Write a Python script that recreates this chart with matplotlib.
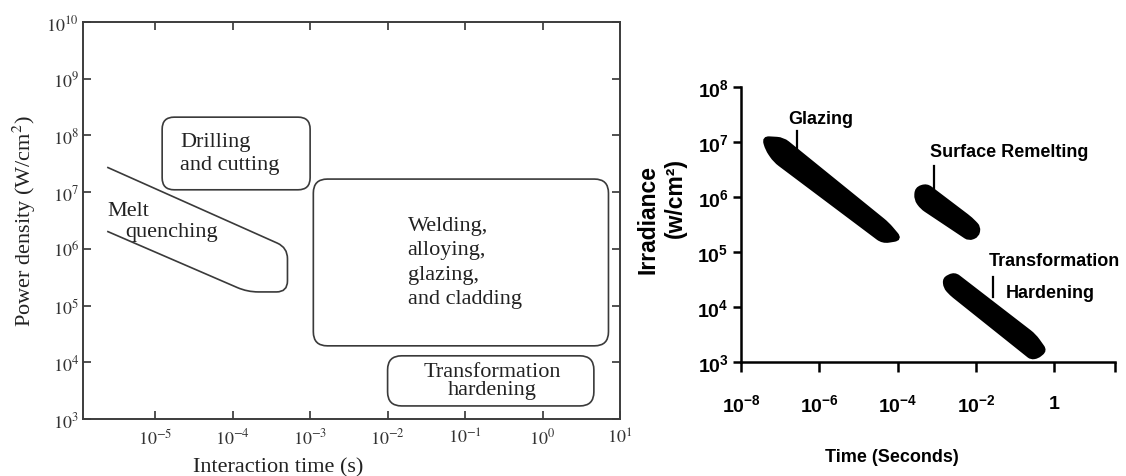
import numpy as np
import matplotlib
matplotlib.use("Agg")
import matplotlib.pyplot as plt
from matplotlib.path import Path
from matplotlib.patches import PathPatch
from matplotlib.transforms import IdentityTransform
from matplotlib import font_manager

# ---- left chart: laser processes, interaction time vs power density ----
drill_t = [1.23e-5, 1.0e-3]          # box x range (s)
drill_p = [1.1e7, 2.1e8]             # box y range (W/cm2)
weld_t = [1.1e-3, 7.1]
weld_p = [1.95e4, 1.7e7]
harden_t = [1.0e-2, 4.6]
harden_p = [1.7e3, 1.3e4]
# melt quenching outline (open shape)
melt_t = [2.4e-6, 5.1e-4, 5.1e-4, 1.55e-4, 2.4e-6]
melt_p = [2.75e7, 1.05e6, 1.74e5, 1.74e5, 2.04e6]

left_xticks = [1e-5, 1e-4, 1e-3, 1e-2, 1e-1, 1e0, 1e1]
left_xlabels = ['$10^{-5}$', '$10^{-4}$', '$10^{-3}$', '$10^{-2}$',
                '$10^{-1}$', '$10^{0}$', '$10^{1}$']
left_yticks = [1e3, 1e4, 1e5, 1e6, 1e7, 1e8, 1e9, 1e10]
left_ylabels = ['$10^{%d}$' % k for k in range(3, 11)]

# ---- right chart: irradiance vs time, bands given as log10 outlines ----
glaze_lt = [-7.41, -6.93, -4.26, -3.94, -4.38, -7.13, -7.33]
glaze_lI = [7.07, 7.05, 5.51, 5.24, 5.19, 6.66, 6.87]
remelt_lt = [-3.51, -3.26, -2.13, -1.93, -1.97, -2.18, -3.38, -3.53]
remelt_lI = [6.15, 6.21, 5.60, 5.45, 5.30, 5.24, 5.81, 5.96]
hard_lt = [-2.80, -2.55, -0.51, -0.24, -0.43, -0.59, -2.63, -2.78]
hard_lI = [4.51, 4.60, 3.48, 3.21, 3.10, 3.08, 4.24, 4.36]

right_xticks = [1e-8, 1e-6, 1e-4, 1e-2, 1]
right_xlabels = ['$10^{-8}$', '$10^{-6}$', '$10^{-4}$', '$10^{-2}$', '$1$']
right_yticks = [1e3, 1e4, 1e5, 1e6, 1e7, 1e8]
right_ylabels = ['$10^{%d}$' % k for k in range(3, 9)]

# label callouts (log10 coords)
glaze_tick = ([-6.57, -6.57], [7.20, 6.87])
remelt_tick = ([-3.07, -3.07], [6.56, 6.11])
hard_tick = ([-1.57, -1.57], [4.55, 4.18])

names = {f.name for f in font_manager.fontManager.ttflist}
narrow = 'Liberation Sans Narrow' if 'Liberation Sans Narrow' in names else 'Liberation Sans'
nsize = 15 if narrow == 'Liberation Sans Narrow' else 13
serif = 'Liberation Serif'

plt.rcParams['mathtext.fontset'] = 'stix'
plt.rcParams['mathtext.rm'] = 'Liberation Sans:bold'
plt.rcParams['mathtext.it'] = 'Liberation Sans:bold'
plt.rcParams['mathtext.bf'] = 'Liberation Sans:bold'

W, H = 1126, 477
fig = plt.figure(figsize=(W / 100, H / 100), dpi=100)
ax1 = fig.add_axes([83 / W, 57 / H, 537 / W, 397 / H])
ax2 = fig.add_axes([741 / W, 114 / H, 374 / W, 275 / H])


def rounded_path(pts, r, closed=True):
    pts = np.asarray(pts, float)
    n = len(pts)
    verts, codes = [], []
    for i in range(n):
        p = pts[i]
        if not closed and i in (0, n - 1):
            verts.append(p)
            codes.append(Path.MOVETO if i == 0 else Path.LINETO)
            continue
        a, b = pts[i - 1], pts[(i + 1) % n]
        d1, d2 = a - p, b - p
        l1, l2 = np.hypot(*d1), np.hypot(*d2)
        rr = min(r, l1 / 2.2, l2 / 2.2)
        s = p + d1 / l1 * rr
        e = p + d2 / l2 * rr
        verts += [s, p, e]
        codes += [Path.MOVETO if (closed and i == 0) else Path.LINETO,
                  Path.CURVE3, Path.CURVE3]
    if closed:
        verts.append(verts[0])
        codes.append(Path.CLOSEPOLY)
    return Path(verts, codes)


def add_shape(ax, xs, ys, r, closed=True, **kw):
    pix = ax.transData.transform(np.column_stack([xs, ys]))
    patch = PathPatch(rounded_path(pix, r, closed), transform=IdentityTransform(),
                      clip_on=False, **kw)
    ax.add_artist(patch)


def box(ax, t, p, r, **kw):
    add_shape(ax, [t[0], t[1], t[1], t[0]], [p[0], p[0], p[1], p[1]], r, **kw)


# ---------------- left chart ----------------
gray = '#333333'
ax1.set_xscale('log')
ax1.set_yscale('log')
ax1.set_xlim(1.17e-6, 10)
ax1.set_ylim(1e3, 1e10)
ax1.set_xticks(left_xticks)
ax1.set_xticklabels(left_xlabels)
ax1.set_yticks(left_yticks)
ax1.set_yticklabels(left_ylabels)
ax1.xaxis.set_minor_locator(matplotlib.ticker.NullLocator())
ax1.yaxis.set_minor_locator(matplotlib.ticker.NullLocator())
ax1.tick_params(direction='in', top=True, right=True, length=6, width=1.2,
                color=gray, labelcolor=gray, labelsize=13)
ax1.tick_params(axis='x', pad=6)
ax1.tick_params(axis='y', pad=3)
for s in ax1.spines.values():
    s.set_color('#3c3c3c')
    s.set_linewidth(1.4)

edge = dict(facecolor='none', edgecolor='#3a3a3a', linewidth=1.2)
box(ax1, drill_t, drill_p, 12, **edge)
box(ax1, weld_t, weld_p, 14, **edge)
box(ax1, harden_t, harden_p, 14, **edge)
add_shape(ax1, melt_t, melt_p, 11, closed=False, **edge)

tf = dict(family=serif, fontsize=16, color='#222222')
ax1.text(10**-4.68, 10**7.69, 'Drilling\nand cutting', ha='left', va='center',
         linespacing=1.25, **tf)
ax1.text(10**-5.62, 10**6.67, 'Melt', ha='left', va='center', **tf)
ax1.text(10**-5.39, 10**6.30, 'quenching', ha='left', va='center', **tf)
ax1.text(10**-1.74, 10**5.77, 'Welding,\nalloying,\nglazing,\nand cladding',
         ha='left', va='center', linespacing=1.38, **tf)
ax1.text(10**-0.645, 10**3.68, 'Transformation\nhardening', ha='center',
         va='center', linespacing=0.95, **tf)

ax1.set_xlabel('Interaction time (s)', va='center', **tf)
ax1.xaxis.set_label_coords(0.363, -0.12)
ax1.set_ylabel('Power density (W/cm$^2$)', va='center', **tf)
ax1.yaxis.set_label_coords(-0.11, 0.5)
for lbl in [ax1.xaxis.label, ax1.yaxis.label]:
    lbl.set_math_fontfamily('stix')

# ---------------- right chart ----------------
ax2.set_xscale('log')
ax2.set_yscale('log')
xmax = 10**1.55
ax2.set_xlim(10**-7.9, xmax)
ax2.set_ylim(1e3, 1e8)
ax2.set_xticks(right_xticks)
ax2.set_xticklabels(right_xlabels)
ax2.set_xticks([xmax], minor=True)
ax2.xaxis.set_minor_formatter(matplotlib.ticker.NullFormatter())
ax2.set_yticks(right_yticks)
ax2.set_yticklabels(right_ylabels)
ax2.yaxis.set_minor_locator(matplotlib.ticker.NullLocator())
for s in ['top', 'right']:
    ax2.spines[s].set_visible(False)
for s in ['left', 'bottom']:
    ax2.spines[s].set_linewidth(1.8)
ax2.tick_params(axis='x', which='both', direction='out', length=7.5, width=1.8,
                pad=15, labelsize=14)
ax2.tick_params(axis='y', direction='out', length=6, width=1.8, pad=3,
                labelsize=14)
for lbl in ax2.get_xticklabels() + ax2.get_yticklabels():
    lbl.set_math_fontfamily('custom')

band = dict(facecolor='black', edgecolor='black', linewidth=3)
for lt, lI in [(glaze_lt, glaze_lI), (remelt_lt, remelt_lI), (hard_lt, hard_lI)]:
    add_shape(ax2, np.power(10.0, lt), np.power(10.0, lI), 6, **band)

for xs, ys in [glaze_tick, remelt_tick, hard_tick]:
    ax2.plot(np.power(10.0, xs), np.power(10.0, ys), color='black', lw=1.6,
             clip_on=False)

nf = dict(family=narrow, fontweight='bold', fontsize=nsize, color='black')
ax2.text(10**-6.8, 10**7.42, 'Glazing', ha='left', va='center', **nf)
ax2.text(10**-3.17, 10**6.82, 'Surface Remelting', ha='left', va='center', **nf)
ax2.text(10**-1.68, 10**4.84, 'Transformation', ha='left', va='center', **nf)
ax2.text(10**-1.24, 10**4.27, 'Hardening', ha='left', va='center', **nf)

ax2.text(0.404, -0.342, 'Time (Seconds)', transform=ax2.transAxes,
         ha='center', va='center', **nf)
vf = dict(family='Liberation Sans', fontweight='bold', fontsize=16.5,
          color='black', rotation=90, ha='center', va='center',
          transform=ax2.transAxes)
ax2.text(-0.249, 0.52, 'Irradiance', **vf)
ax2.text(-0.176, 0.60, '(w/cm²)', **vf)

fig.savefig('out.png', dpi=100)
